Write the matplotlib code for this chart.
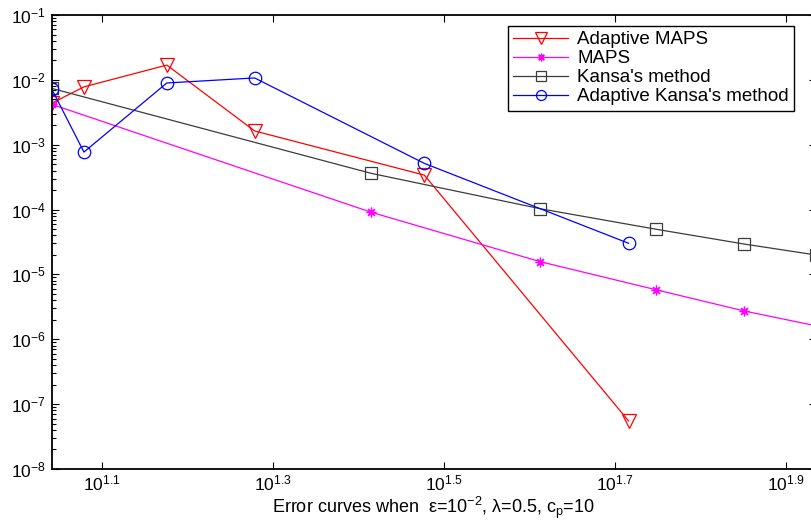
import numpy as np
import matplotlib
matplotlib.use('Agg')
import matplotlib.pyplot as plt

plt.rcParams['font.family'] = ['Liberation Sans', 'DejaVu Sans']
plt.rcParams['mathtext.fontset'] = 'custom'
plt.rcParams['mathtext.rm'] = 'Liberation Sans'
plt.rcParams['mathtext.it'] = 'Liberation Sans:italic'
plt.rcParams['mathtext.bf'] = 'Liberation Sans:bold'

# ---------------------------------------------------------------
# Datos
# ---------------------------------------------------------------
n_adapt = [11, 12, 15, 19, 30, 52]
n_fijo = [11, 26, 41, 56, 71, 86]

err_adapt_maps = [4.35e-3, 7.8e-3, 1.69e-2, 1.63e-3, 3.4e-4, 5.5e-8]
err_maps = [4.2e-3, 9.1e-5, 1.57e-5, 5.8e-6, 2.73e-6, 1.62e-6]
err_kansa = [7.4e-3, 3.62e-4, 1.03e-4, 4.97e-5, 2.94e-5, 2.0e-5]
err_adapt_kansa = [7.3e-3, 7.7e-4, 8.95e-3, 1.07e-2, 5.16e-4, 3.02e-5]

etiquetas = ['Adaptive MAPS', 'MAPS', "Kansa's method", "Adaptive Kansa's method"]

xticks_exp = [1.1, 1.3, 1.5, 1.7, 1.9]
yticks_exp = [-8, -7, -6, -5, -4, -3, -2, -1]

# ---------------------------------------------------------------
# Figura
# ---------------------------------------------------------------
fig = plt.figure(figsize=(8.12, 5.21), dpi=100)
ax = fig.add_axes([51.6 / 812, 52 / 521, (815.5 - 51.6) / 812, 454 / 521])

lw = 0.9
ax.loglog(n_adapt, err_adapt_maps, color='#FF0000', lw=lw, marker='v', ms=10,
          mfc='none', mec='#FF0000', mew=0.9, label=etiquetas[0])
ax.loglog(n_fijo, err_maps, color='#FF00FF', lw=lw, marker=(8, 2, 0), ms=7,
          mec='#FF00FF', mew=0.9, label=etiquetas[1])
ax.loglog(n_fijo, err_kansa, color='#3c3c3c', lw=lw, marker='s', ms=8.5,
          mfc='none', mec='#3c3c3c', mew=0.9, label=etiquetas[2])
ax.loglog(n_adapt, err_adapt_kansa, color='#0000FF', lw=lw, marker='o', ms=9,
          mfc='none', mec='#0000FF', mew=0.9, label=etiquetas[3])

ax.set_xlim(11, 86)
ax.set_ylim(1e-8, 1e-1)

ax.set_xticks([10 ** e for e in xticks_exp])
ax.set_xticklabels([r'$\mathregular{10^{%.1f}}$' % e for e in xticks_exp])
ax.xaxis.set_minor_locator(matplotlib.ticker.NullLocator())

ax.set_yticks([10.0 ** e for e in yticks_exp])
ax.set_yticklabels([r'$\mathregular{10^{%d}}$' % e for e in yticks_exp])
ax.yaxis.set_minor_locator(matplotlib.ticker.LogLocator(base=10, subs=np.arange(2, 10), numticks=20))
ax.yaxis.set_minor_formatter(matplotlib.ticker.NullFormatter())

ax.tick_params(which='both', direction='in', top=True, right=True, width=0.8)
ax.tick_params(which='major', length=5, labelsize=12.5)
ax.tick_params(which='minor', length=3)
ax.tick_params(axis='y', pad=4)
ax.tick_params(axis='x', pad=3)

for sp in ax.spines.values():
    sp.set_linewidth(1.3)

ax.set_xlabel(r'Error curves when  $\mathregular{\epsilon}$=10$^{\mathregular{-2}}$, $\mathregular{\lambda}$=0.5, c$_{\mathregular{p}}$=10',
              fontsize=13, labelpad=1)

leg = ax.legend(loc='upper right', bbox_to_anchor=(0.972, 0.976), borderaxespad=0,
                fontsize=13.5, numpoints=1, handlelength=2.9, handletextpad=0.5,
                labelspacing=0.1, borderpad=0.28, fancybox=False, framealpha=1,
                markerscale=0.8)
leg.get_frame().set_edgecolor('black')
leg.get_frame().set_linewidth(1.0)

fig.savefig('out.png', dpi=100)
